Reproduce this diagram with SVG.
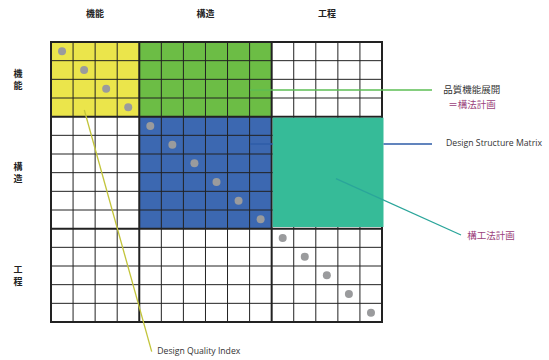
<svg xmlns="http://www.w3.org/2000/svg" width="549" height="360" viewBox="0 0 549 360">
  <style>
    .thin { stroke: #222; stroke-width: 1; fill: none; }
    .thick { stroke: #222; stroke-width: 2; fill: none; }
    .dot { fill: #9a9b9d; }
    .head { font-family: "Noto Sans CJK JP", sans-serif; font-size: 9px; font-weight: bold; fill: #222; text-anchor: middle; }
    .lbl { font-family: "Noto Sans CJK JP", sans-serif; font-size: 9.5px; fill: #333; }
    .lblp { font-family: "Noto Sans CJK JP", sans-serif; font-size: 9.5px; fill: #9b3f7b; }
    .en { font-family: "Open Sans", "Liberation Sans", sans-serif; font-size: 8.5px; fill: #333; }
    .conn { fill: none; stroke-width: 1.3; }
  </style>
  <rect width="549" height="360" fill="#fff"/>

  <!-- section headings -->
  <g id="headings">
    <text class="head" x="95" y="17">機能</text>
    <text class="head" x="205.5" y="17">構造</text>
    <text class="head" x="327" y="17">工程</text>
    <text class="head" x="18" y="77">機</text>
    <text class="head" x="18" y="89">能</text>
    <text class="head" x="18" y="170">構</text>
    <text class="head" x="18" y="182">造</text>
    <text class="head" x="18" y="273">工</text>
    <text class="head" x="18" y="285">程</text>
  </g>

  <!-- matrix blocks -->
  <g id="block-function">
    <rect x="51" y="42" width="88.27" height="74.67" fill="#ebe54b"/>
  </g>
  <g id="block-function-structure">
    <rect x="139.27" y="42" width="132.4" height="74.67" fill="#6cbd45"/>
  </g>
  <g id="block-structure">
    <rect x="139.27" y="116.67" width="132.4" height="112" fill="#3c68b1"/>
  </g>

  <!-- grid -->
  <g id="grid">
    <path class="thin" d="M73.07,42V322 M95.13,42V322 M117.2,42V322 M161.33,42V322 M183.4,42V322 M205.47,42V322 M227.53,42V322 M249.6,42V322 M293.73,42V322 M315.8,42V322 M337.87,42V322 M359.93,42V322
      M51,60.67H382 M51,79.33H382 M51,98H382 M51,135.33H382 M51,154H382 M51,172.67H382 M51,191.33H382 M51,210H382 M51,247.33H382 M51,266H382 M51,284.67H382 M51,303.33H382"/>
    <path class="thick" d="M139.27,42V322 M271.67,42V322 M51,116.67H382 M51,228.67H382"/>
    <rect class="thick" x="51" y="42" width="331" height="280" stroke-width="2.4"/>
  </g>

  <g id="block-structure-process">
    <rect x="272.7" y="117.7" width="110.8" height="109.3" fill="#36bb98"/>
  </g>

  <!-- diagonal markers -->
  <g id="diagonal">
    <circle class="dot" cx="62.03" cy="51.33" r="4"/>
    <circle class="dot" cx="84.1" cy="70" r="4"/>
    <circle class="dot" cx="106.17" cy="88.67" r="4"/>
    <circle class="dot" cx="128.23" cy="107.33" r="4"/>
    <circle class="dot" cx="150.3" cy="126" r="4"/>
    <circle class="dot" cx="172.37" cy="144.67" r="4"/>
    <circle class="dot" cx="194.43" cy="163.33" r="4"/>
    <circle class="dot" cx="216.5" cy="182" r="4"/>
    <circle class="dot" cx="238.57" cy="200.67" r="4"/>
    <circle class="dot" cx="260.63" cy="219.33" r="4"/>
    <circle class="dot" cx="282.7" cy="238" r="4"/>
    <circle class="dot" cx="304.77" cy="256.67" r="4"/>
    <circle class="dot" cx="326.83" cy="275.33" r="4"/>
    <circle class="dot" cx="348.9" cy="294" r="4"/>
    <circle class="dot" cx="370.97" cy="312.67" r="4"/>
  </g>

  <!-- leader lines -->
  <g id="connectors">
    <path class="conn" stroke="#5dbe55" d="M250,90H432"/>
    <path class="conn" stroke="#2e5ca8" d="M250,144H272.7 M383.5,144H432"/>
    <path class="conn" stroke="#2aa59a" d="M336,178.7L461,235"/>
    <path class="conn" stroke="#c2c43a" d="M84.3,110L151.7,351.7"/>
  </g>

  <!-- callout labels -->
  <g id="label-qfd">
    <text class="lbl" x="443.3" y="92.5">品質機能展開</text>
    <text class="lblp" x="448.3" y="107.8">＝構法計画</text>
  </g>
  <g id="label-dsm">
    <text class="en" x="446" y="146" textLength="96" lengthAdjust="spacingAndGlyphs">Design Structure Matrix</text>
  </g>
  <g id="label-process">
    <text class="lblp" x="467.3" y="238.5">構工法計画</text>
  </g>
  <g id="label-dqi">
    <text class="en" x="157.3" y="354" textLength="83" lengthAdjust="spacingAndGlyphs">Design Quality Index</text>
  </g>
</svg>
